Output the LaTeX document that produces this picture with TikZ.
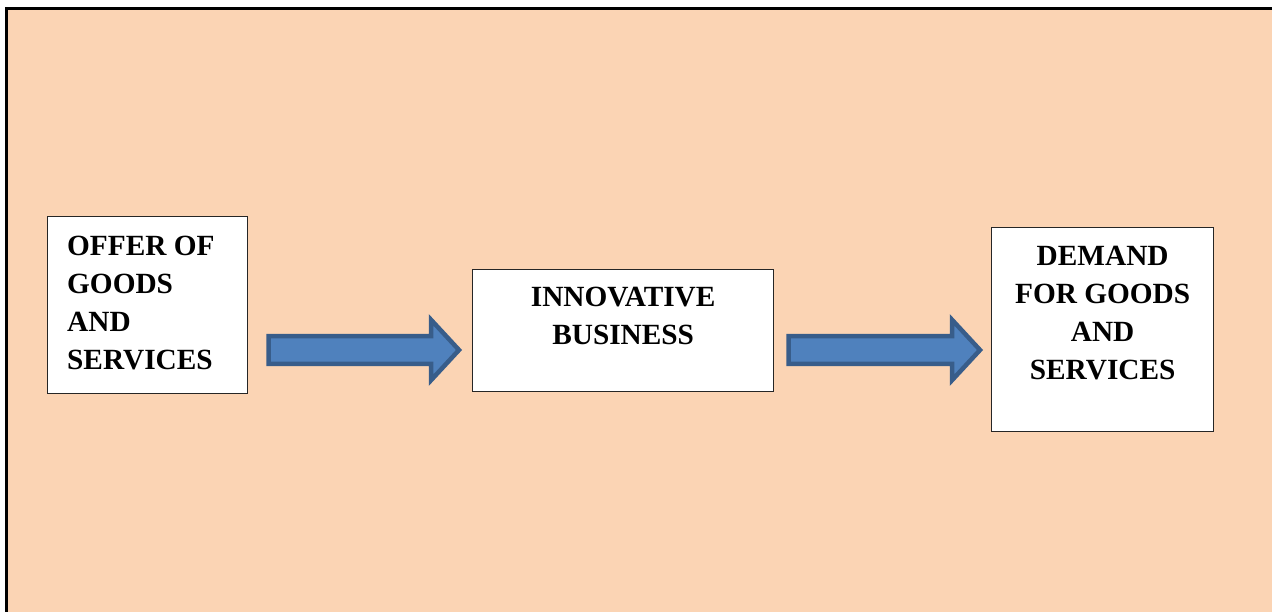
\documentclass[tikz,border=0pt]{standalone}
\usepackage{fontspec}
\setmainfont{Liberation Serif}
\usetikzlibrary{calc}
\definecolor{peach}{HTML}{FBD4B4}
\definecolor{arrowfill}{HTML}{4F81BD}
\definecolor{arrowline}{HTML}{385D8A}
\newcommand\blockarr[2]{%
  \draw[blockarrow] ($(#1)+(0,-13.75)$) -- ($(#2)+(-28,-13.75)$) -- ($(#2)+(-28,-30.25)$) -- (#2)
    -- ($(#2)+(-28,30.25)$) -- ($(#2)+(-28,13.75)$) -- ($(#1)+(0,13.75)$) -- cycle;}
\begin{document}
\begin{tikzpicture}[x=1pt,y=-1pt,
  box/.style={draw=black!85, line width=1.3pt, fill=white, inner sep=0pt, anchor=north west},
  boxtext/.style={font=\fontsize{29.3}{38}\selectfont\bfseries, inner sep=0pt},
  blockarrow/.style={fill=arrowfill, draw=arrowline, line width=4.5pt, line join=miter}]
\useasboundingbox (0,0) rectangle (1272,612);
\fill[peach] (6,9) rectangle (1272,612);
\draw[line width=3pt] (6,612) -- (6,9) -- (1272,9);
% boxes
\node[box, minimum width=200pt, minimum height=177pt] (b1) at (47,216) {};
\node[box, minimum width=301pt, minimum height=122pt] (b2) at (472,269) {};
\node[box, minimum width=222pt, minimum height=204pt] (b3) at (991,227) {};
% texts
\node[boxtext, anchor=north west, align=left] (t1) at (67,236) {OFFER OF\\GOODS\\AND\\SERVICES};
\node[boxtext, anchor=north, align=center] (t2) at (b2.north |- 0,287) {INNOVATIVE\\BUSINESS};
\node[boxtext, anchor=north, align=center] (t3) at (b3.north |- 0,246) {DEMAND\\FOR GOODS\\AND\\SERVICES};
% arrows
\coordinate (a1s) at ($(b1.east |- 0,350)+(20.25,0)$);
\coordinate (a1e) at ($(b2.west |- 0,350)+(-13,0)$);
\coordinate (a2s) at ($(b2.east |- 0,350)+(14.25,0)$);
\coordinate (a2e) at ($(b3.west |- 0,350)+(-11,0)$);
\blockarr{a1s}{a1e}
\blockarr{a2s}{a2e}
\end{tikzpicture}
\end{document}
